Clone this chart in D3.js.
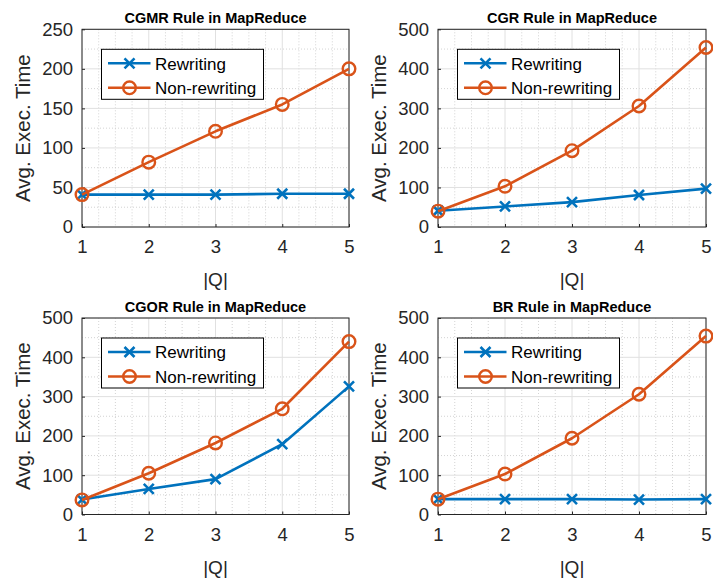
<!DOCTYPE html>
<html><head><meta charset="utf-8">
<script src="https://cdn.jsdelivr.net/npm/d3@7"></script>
<style>
html,body{margin:0;padding:0;background:#fff;}
svg{display:block;font-family:"Liberation Sans",Arial,Helvetica,sans-serif;}
</style></head>
<body>
<svg id="chart" width="713" height="580"></svg>
<script>
// ---- data ----
const qValues = [1, 2, 3, 4, 5];
const seriesNames = ["Rewriting", "Non-rewriting"];
const panelTitles = ["CGMR Rule in MapReduce", "CGR Rule in MapReduce", "CGOR Rule in MapReduce", "BR Rule in MapReduce"];
const cgmrRewriting = [41, 41, 41, 42, 42];
const cgmrNonRewriting = [41, 82, 121, 155, 200];
const cgrRewriting = [41, 52, 63, 81, 97];
const cgrNonRewriting = [40, 103, 193, 306, 454];
const cgorRewriting = [38, 65, 90, 179, 326];
const cgorNonRewriting = [37, 105, 182, 269, 440];
const brRewriting = [39, 39, 39, 38, 39];
const brNonRewriting = [39, 103, 194, 306, 454];
const yMaxes = [250, 500, 500, 500];
const yTickSteps = [50, 100, 100, 100];
const xLabel = "|Q|";
const yLabel = "Avg. Exec. Time";

const panelsData = [
  [cgmrRewriting, cgmrNonRewriting],
  [cgrRewriting, cgrNonRewriting],
  [cgorRewriting, cgorNonRewriting],
  [brRewriting, brNonRewriting]
];

// ---- layout ----
const colors = ["#0072BD", "#D95319"];
const boxes = [
  {l: 82, r: 349, t: 29.3, b: 227},
  {l: 438, r: 706, t: 29.3, b: 227},
  {l: 82, r: 349, t: 318, b: 514.5},
  {l: 438, r: 706, t: 318, b: 514.5}
];
const svg = d3.select("#chart");
const axisColor = "#262626";

panelsData.forEach((series, i) => {
  const bx = boxes[i];
  const x = d3.scaleLinear().domain([1, 5]).range([bx.l, bx.r]);
  const y = d3.scaleLinear().domain([0, yMaxes[i]]).range([bx.b, bx.t]);
  const g = svg.append("g");

  // minor grid
  const xMinor = d3.range(1, 5.001, 0.25).filter(v => Math.abs(v - Math.round(v)) > 1e-6);
  const yMinor = d3.range(0, yMaxes[i] + 0.001, yTickSteps[i] / 2).filter(v => v % yTickSteps[i] !== 0);
  g.selectAll(".xm").data(xMinor).enter().append("line")
    .attr("x1", d => x(d)).attr("x2", d => x(d)).attr("y1", bx.t).attr("y2", bx.b)
    .attr("stroke", "#c8c8c8").attr("stroke-width", 0.8).attr("stroke-dasharray", "1,2");
  g.selectAll(".ym").data(yMinor).enter().append("line")
    .attr("x1", bx.l).attr("x2", bx.r).attr("y1", d => y(d)).attr("y2", d => y(d))
    .attr("stroke", "#c8c8c8").attr("stroke-width", 0.8).attr("stroke-dasharray", "1,2");
  // major grid
  const yTicks = d3.range(0, yMaxes[i] + 0.001, yTickSteps[i]);
  g.selectAll(".xg").data(qValues).enter().append("line")
    .attr("x1", d => x(d)).attr("x2", d => x(d)).attr("y1", bx.t).attr("y2", bx.b)
    .attr("stroke", "#e0e0e0").attr("stroke-width", 1);
  g.selectAll(".yg").data(yTicks).enter().append("line")
    .attr("x1", bx.l).attr("x2", bx.r).attr("y1", d => y(d)).attr("y2", d => y(d))
    .attr("stroke", "#e0e0e0").attr("stroke-width", 1);

  // axes
  const xAxis = d3.axisBottom(x).tickValues(qValues).tickFormat(d3.format("d")).tickSizeInner(-3).tickSizeOuter(0).tickPadding(13);
  const yAxis = d3.axisLeft(y).tickValues(yTicks).tickFormat(d3.format("d")).tickSizeInner(-3).tickSizeOuter(0).tickPadding(9);
  const gx = g.append("g").attr("transform", `translate(0,${bx.b})`).call(xAxis);
  const gy = g.append("g").attr("transform", `translate(${bx.l},0)`).call(yAxis);
  [gx, gy].forEach(a => {
    a.select(".domain").remove();
    a.selectAll(".tick line").attr("stroke", axisColor);
    a.selectAll(".tick text").attr("fill", "#262626").style("font-size", "18.5px")
      .style("font-family", "'Liberation Sans',Arial,sans-serif");
  });
  gx.selectAll(".tick text").attr("dy", "0.71em");
  // box
  g.append("rect").attr("x", bx.l).attr("y", bx.t).attr("width", bx.r - bx.l).attr("height", bx.b - bx.t)
    .attr("fill", "none").attr("stroke", axisColor).attr("stroke-width", 1);

  // title
  g.append("text").attr("x", (bx.l + bx.r) / 2).attr("y", bx.t - 6.5)
    .attr("text-anchor", "middle").style("font-weight", "bold").style("font-size", "14.5px")
    .attr("fill", "#000").text(panelTitles[i]);
  // x label
  g.append("text").attr("x", (bx.l + bx.r) / 2).attr("y", bx.b + 59)
    .attr("text-anchor", "middle").style("font-size", "19px").attr("fill", "#262626").text(xLabel);
  // y label
  g.append("text").attr("transform", `translate(${bx.l - 52},${(bx.t + bx.b) / 2}) rotate(-90)`)
    .attr("text-anchor", "middle").style("font-size", "20.5px").attr("fill", "#262626").text(yLabel);

  // series
  const line = d3.line().x((d, k) => x(qValues[k])).y(d => y(d));
  series.forEach((vals, s) => {
    g.append("path").datum(vals).attr("d", line).attr("fill", "none")
      .attr("stroke", colors[s]).attr("stroke-width", 2.6).attr("stroke-linejoin", "round");
    if (s === 0) {
      g.selectAll(".cross" + s).data(vals).enter().append("path")
        .attr("transform", (d, k) => `translate(${x(qValues[k])},${y(d)})`)
        .attr("d", "M-5,-5L5,5M-5,5L5,-5").attr("stroke", colors[s]).attr("stroke-width", 2.6).attr("fill", "none");
    } else {
      g.selectAll(".circ" + s).data(vals).enter().append("circle")
        .attr("cx", (d, k) => x(qValues[k])).attr("cy", d => y(d)).attr("r", 6.3)
        .attr("stroke", colors[s]).attr("stroke-width", 2.4).attr("fill", "none");
    }
  });

  // legend
  const lx = bx.l + 19.5, ly = bx.t + 20, lw = 162, lh = 50;
  const lg = g.append("g");
  lg.append("rect").attr("x", lx).attr("y", ly).attr("width", lw).attr("height", lh)
    .attr("fill", "#fff").attr("stroke", "#000").attr("stroke-width", 1);
  seriesNames.forEach((name, s) => {
    const cy = ly + 14 + s * 24.5;
    lg.append("line").attr("x1", lx + 6.5).attr("x2", lx + 49).attr("y1", cy).attr("y2", cy)
      .attr("stroke", colors[s]).attr("stroke-width", 2.6);
    const mx = lx + 28;
    if (s === 0) {
      lg.append("path").attr("transform", `translate(${mx},${cy})`).attr("d", "M-5,-5L5,5M-5,5L5,-5")
        .attr("stroke", colors[s]).attr("stroke-width", 2.6);
    } else {
      lg.append("circle").attr("cx", mx).attr("cy", cy).attr("r", 6.3).attr("fill", "none")
        .attr("stroke", colors[s]).attr("stroke-width", 2.4);
    }
    lg.append("text").attr("x", lx + 53.5).attr("y", cy + 6.2).style("font-size", "17px")
      .attr("fill", "#000").text(name);
  });
});
</script>
</body></html>
